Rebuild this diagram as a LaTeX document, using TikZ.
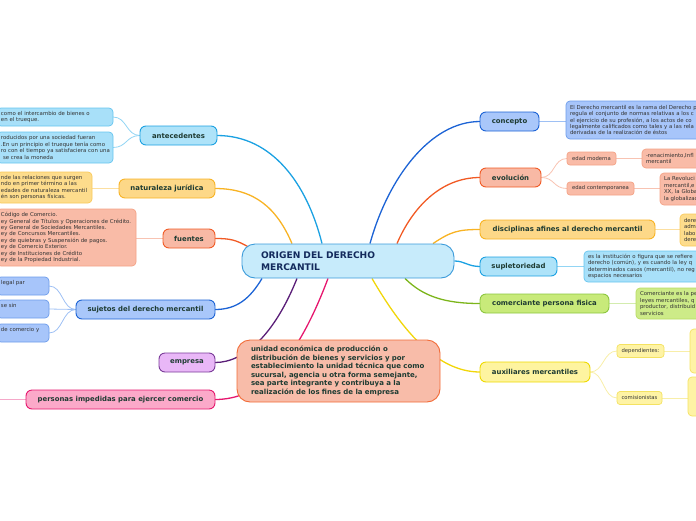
\documentclass[tikz,border=0pt]{standalone}
\usepackage{fontspec}
\setmainfont{DejaVu Sans}
\usetikzlibrary{backgrounds}
\definecolor{cyanLn}{HTML}{1BA1E2}\definecolor{cyanF}{HTML}{AEE3F9}\definecolor{cyanLf}{HTML}{A8E0F9}\definecolor{cyanLb}{HTML}{66C5EF}\definecolor{cyanSc}{HTML}{92D5F4}
\definecolor{ambLn}{HTML}{F8B324}\definecolor{ambF}{HTML}{FDD888}\definecolor{ambLf}{HTML}{FDDC8C}\definecolor{ambLb}{HTML}{F9C95A}\definecolor{ambSc}{HTML}{FCDFA0}
\definecolor{redLn}{HTML}{F15A24}\definecolor{redF}{HTML}{F8B9A5}\definecolor{redLf}{HTML}{F9BBA7}\definecolor{redLb}{HTML}{F4A286}\definecolor{redSc}{HTML}{F8C3B2}
\definecolor{bluLn}{HTML}{1C63D5}\definecolor{bluF}{HTML}{A9C7FA}\definecolor{bluLf}{HTML}{A7C5FA}\definecolor{bluLb}{HTML}{6C9CEB}\definecolor{bluSc}{HTML}{9EC0F4}
\definecolor{purLn}{HTML}{5A1E78}\definecolor{purF}{HTML}{E9B7F7}\definecolor{purB}{HTML}{7A3B99}
\definecolor{pnkLn}{HTML}{E6176E}\definecolor{pnkF}{HTML}{FBA9C9}\definecolor{pnkSc}{HTML}{F5A8C9}
\definecolor{grnLn}{HTML}{7CB51B}\definecolor{grnF}{HTML}{C8EA7A}\definecolor{grnB}{HTML}{8CC63F}\definecolor{grnLf}{HTML}{CDEB88}\definecolor{grnLb}{HTML}{B7DB62}\definecolor{grnSc}{HTML}{D3ECAE}
\definecolor{yelLn}{HTML}{F1D60A}\definecolor{yelF}{HTML}{FEF4A0}\definecolor{yelB}{HTML}{EED900}\definecolor{yelLf}{HTML}{FEF3A5}\definecolor{yelLb}{HTML}{F4E261}\definecolor{yelSc}{HTML}{F8EEA8}
\definecolor{cenF}{HTML}{C7EBFB}\definecolor{cenB}{HTML}{3B9BDA}
\definecolor{salF}{HTML}{F8BCA9}\definecolor{salB}{HTML}{F26B37}
\definecolor{mainTx}{HTML}{1E3B32}\definecolor{cenTx}{HTML}{132A5C}\definecolor{leafTx}{HTML}{333333}
\begin{document}
\begin{tikzpicture}[x=1pt,y=-1pt,
  mainnode/.style={draw, line width=0.9pt, rounded corners=6pt, minimum height=19pt, inner sep=0pt, outer sep=0pt, font=\fontsize{6.9}{8}\selectfont\bfseries, text=mainTx},
  leaf/.style={draw, line width=0.7pt, rounded corners=4pt, inner xsep=4pt, inner ysep=2.5pt, outer sep=0pt, align=left, font=\fontsize{5.4}{6.4}\selectfont, text=leafTx},
  subnode/.style={draw, line width=0.7pt, rounded corners=3pt, minimum height=13pt, inner sep=0pt, outer sep=0pt, font=\fontsize{5.3}{6}\selectfont, text=leafTx},
  conn/.style={line width=1.3pt},
  subconn/.style={line width=0.8pt}
]
\useasboundingbox (0,0) rectangle (696,520);
\clip (0,0) rectangle (696,520);

% central
\node[draw=cenB, fill=cenF, line width=0.9pt, rounded corners=13pt, minimum height=34pt, text width=174pt, inner xsep=19pt, inner ysep=0pt, align=left, font=\fontsize{9.1}{12}\selectfont\bfseries, text=cenTx] (c) at (348,261) {ORIGEN DEL DERECHO\\MERCANTIL};

% empresa detail (floating)
\node[draw=salB, fill=salF, line width=0.9pt, rounded corners=13pt, minimum height=62pt, text width=175pt, inner xsep=14pt, inner ysep=0pt, align=left, font=\fontsize{7}{8.6}\selectfont\bfseries, text=mainTx] (ed) at (338.5,371) {\mbox{unidad económica de producción o}\\\mbox{distribución de bienes y servicios y por}\\\mbox{establecimiento la unidad técnica que como}\\\mbox{sucursal, agencia u otra forma semejante,}\\\mbox{sea parte integrante y contribuya a la}\\\mbox{realización de los fines de la empresa}};

% left main nodes
\node[mainnode, fill=cyanF, draw=cyanLn, minimum width=77pt] (ant) at (178.5,135.5) {antecedentes};
\node[mainnode, fill=ambF, draw=ambLn, minimum width=96pt] (nat) at (167,188.5) {naturaleza jurídica};
\node[mainnode, fill=redF, draw=redLn, minimum width=52pt] (fue) at (189,238.5) {fuentes};
\node[mainnode, fill=bluF, draw=bluLn, minimum width=139pt] (suj) at (145.5,309.5) {sujetos del derecho mercantil};
\node[mainnode, fill=purF, draw=purB, minimum width=56pt] (emp) at (187,362.5) {empresa};
\node[mainnode, fill=pnkF, draw=pnkLn, minimum width=189pt] (per) at (120.5,399.5) {personas impedidas para ejercer comercio};

% right main nodes
\node[mainnode, fill=bluF, draw=bluLn, minimum width=59pt] (con) at (509.5,121.5) {concepto};
\node[mainnode, fill=redF, draw=redLn, minimum width=61pt] (evo) at (510.5,177.5) {evolución};
\node[mainnode, fill=ambF, draw=ambLn, minimum width=175pt] (dis) at (567.5,229.5) {disciplinas afines al derecho mercantil};
\node[mainnode, fill=cyanF, draw=cyanLn, minimum width=77pt] (sup) at (518.5,266.5) {supletoriedad};
\node[mainnode, fill=grnF, draw=grnB, minimum width=129pt] (com) at (544.5,303.5) {comerciante persona fisica};
\node[mainnode, fill=yelF, draw=yelB, minimum width=110pt, minimum height=20pt] (aux) at (535,372) {auxiliares mercantiles};

% left leaves
\node[leaf, fill=cyanLf, draw=cyanLb, anchor=north east, text width=108pt, minimum height=18pt] (la1) at (113,108) {\mbox{como el intercambio de bienes o}\\\mbox{en el trueque.}};
\node[leaf, fill=cyanLf, draw=cyanLb, anchor=north east, text width=108pt, minimum height=31pt] (la2) at (113,132) {\mbox{roducidos por una sociedad fueran}\\\mbox{.En un principio el trueque tenía como}\\\mbox{ro con el tiempo ya satisfaciera con una}\\\mbox{\hspace{2pt}se crea la moneda}};
\node[leaf, fill=ambLf, draw=ambLb, anchor=north east, text width=87pt, minimum height=31pt] (ln) at (92,172) {\mbox{nde las relaciones que surgen}\\\mbox{ndo en primer término a las}\\\mbox{edades de naturaleza mercantil}\\\mbox{én son personas físicas.}};
\node[leaf, fill=redLf, draw=redLb, anchor=north east, text width=131pt, minimum height=57pt] (lf) at (136,209) {\mbox{Código de Comercio.}\\\mbox{ey General de Títulos y Operaciones de Crédito.}\\\mbox{ey General de Sociedades Mercantiles.}\\\mbox{ey de Concursos Mercantiles.}\\\mbox{ey de quiebras y Suspensión de pagos.}\\\mbox{ey de Comercio Exterior.}\\\mbox{ey de Instituciones de Crédito}\\\mbox{ey de la Propiedad Industrial.}};
\node[leaf, fill=bluLf, draw=bluLb, anchor=north east, text width=44pt, minimum height=18pt] (ls1) at (49,277) {\mbox{legal par}\\\mbox{}};
\node[leaf, fill=bluLf, draw=bluLb, anchor=north east, text width=44pt, minimum height=18pt] (ls2) at (49,300) {\mbox{se sin}\\\mbox{}};
\node[leaf, fill=bluLf, draw=bluLb, anchor=north east, text width=44pt, minimum height=18pt] (ls3) at (49,324) {\mbox{de comercio y}\\\mbox{}};
\coordinate (lp) at (-5,399.5);

% right leaves
\node[leaf, fill=bluLf, draw=bluLb, anchor=north west, text width=200pt, minimum height=38pt] (lc) at (566,101) {\mbox{El Derecho mercantil es la rama del Derecho p}\\\mbox{regula el conjunto de normas relativas a los c}\\\mbox{el ejercicio de su profesión, a los actos de co}\\\mbox{legalmente calificados como tales y a las rela}\\\mbox{derivadas de la realización de éstos}};
\node[subnode, fill=redLf, draw=redLb, minimum width=49pt] (em) at (591.5,158.5) {edad moderna};
\node[subnode, fill=redLf, draw=redLb, minimum width=67pt] (ec) at (600.5,188.5) {edad contemporanea};
\node[leaf, fill=redLf, draw=redLb, anchor=north west, text width=100pt, minimum height=19pt] (lem) at (642,149) {\mbox{-renacimiento,Infl}\\\mbox{mercantil}};
\node[leaf, fill=redLf, draw=redLb, anchor=north west, text width=100pt, minimum height=32pt] (lec) at (660,173) {\mbox{La Revoluci}\\\mbox{mercantil,e}\\\mbox{XX, la Globa}\\\mbox{la globalizac}};
\node[leaf, fill=ambLf, draw=ambLb, anchor=north west, text width=100pt, minimum height=32pt] (ld) at (680,214) {\mbox{dere}\\\mbox{adm}\\\mbox{labo}\\\mbox{dere}};
\node[leaf, fill=cyanLf, draw=cyanLb, anchor=north west, text width=200pt, minimum height=31pt] (lsu) at (584,251) {\mbox{es la institución o figura que se refiere}\\\mbox{derecho (común), y es cuando la ley q}\\\mbox{determinados casos (mercantil), no reg}\\\mbox{espacios necesarios}};
\node[leaf, fill=grnLf, draw=grnLb, anchor=north west, text width=120pt, minimum height=31pt] (lco) at (636,288) {\mbox{Comerciante es la pe}\\\mbox{leyes mercantiles, q}\\\mbox{productor, distribuid}\\\mbox{servicios}};
\node[subnode, fill=yelLf, draw=yelLb, minimum width=47pt] (dep) at (640.5,351) {dependientes:};
\node[subnode, fill=yelLf, draw=yelLb, minimum width=45pt] (cms) at (639.5,398) {comisionistas};
\node[leaf, fill=yelLf, draw=yelLb, anchor=north west, minimum width=40pt, minimum height=44pt] (ldep) at (690,329) {};
\node[leaf, fill=yelLf, draw=yelLb, anchor=north west, minimum width=40pt, minimum height=39pt] (lcms) at (688,377) {};

\begin{pgfonlayer}{background}
% main connectors
\draw[conn, cyanLn] ([xshift=-26pt]c.north) .. controls +(-15,-60) and +(55,0) .. (ant.east);
\draw[conn, ambLn] ([xshift=-56pt]c.north) .. controls +(-15,-35) and +(40,0) .. (nat.east);
\draw[conn, redLn] ([xshift=8pt,yshift=-4pt]c.north west) .. controls +(-14,-8) and +(15,0) .. (fue.east);
\draw[conn, bluLn] ([xshift=-86pt]c.south) .. controls +(-12,20) and +(22,0) .. (suj.east);
\draw[conn, purLn] ([xshift=-51pt]c.south) .. controls +(-22,55) and +(30,0) .. (emp.east);
\draw[conn, pnkLn] ([xshift=-20pt]c.south) .. controls +(-32,85) and +(45,0) .. (per.east);
\draw[conn, bluLn] ([xshift=22pt]c.north) .. controls +(18,-65) and +(-50,0) .. (con.west);
\draw[conn, redLn] ([xshift=49pt]c.north) .. controls +(15,-35) and +(-40,0) .. (evo.west);
\draw[conn, ambLn] ([xshift=85pt]c.north) .. controls +(18,-12) and +(-22,0) .. (dis.west);
\draw[conn, cyanLn] (c.east) .. controls +(10,0) and +(-12,0) .. (sup.west);
\draw[conn, grnLn] ([xshift=57pt]c.south) .. controls +(18,18) and +(-35,0) .. (com.west);
\draw[conn, yelLn] ([xshift=24pt]c.south) .. controls +(28,48) and +(-45,0) .. (aux.west);
% sub connectors
\draw[subconn, cyanSc] (ant.west) .. controls +(-14,0) and +(14,0) .. (la1.east);
\draw[subconn, cyanSc] (ant.west) .. controls +(-14,0) and +(14,0) .. (la2.east);
\draw[subconn, ambSc] (nat.west) -- (ln.east |- nat.west);
\draw[subconn, redSc] (fue.west) -- (lf.east |- fue.west);
\draw[subconn, bluSc] (suj.west) .. controls +(-14,0) and +(14,0) .. (ls1.east);
\draw[subconn, bluSc] (suj.west) .. controls +(-14,0) and +(14,0) .. (ls2.east);
\draw[subconn, bluSc] (suj.west) .. controls +(-14,0) and +(14,0) .. (ls3.east);
\draw[subconn, pnkSc] (per.west) -- (lp);
\draw[subconn, bluSc] (con.east) -- (lc.west |- con.east);
\draw[subconn, redSc] (evo.east) .. controls +(14,0) and +(-14,0) .. (em.west);
\draw[subconn, redSc] (evo.east) .. controls +(14,0) and +(-14,0) .. (ec.west);
\draw[subconn, redSc] (em.east) -- (lem.west |- em.east);
\draw[subconn, redSc] (ec.east) -- (lec.west |- ec.east);
\draw[subconn, ambSc] (dis.east) -- (ld.west |- dis.east);
\draw[subconn, cyanSc] (sup.east) -- (lsu.west |- sup.east);
\draw[subconn, grnSc] (com.east) -- (lco.west |- com.east);
\draw[subconn, yelSc] (aux.east) .. controls +(14,0) and +(-14,0) .. (dep.west);
\draw[subconn, yelSc] (aux.east) .. controls +(14,0) and +(-14,0) .. (cms.west);
\draw[subconn, yelSc] (dep.east) -- (ldep.west |- dep.east);
\draw[subconn, yelSc] (cms.east) -- (lcms.west |- cms.east);
\end{pgfonlayer}
\end{tikzpicture}
\end{document}
